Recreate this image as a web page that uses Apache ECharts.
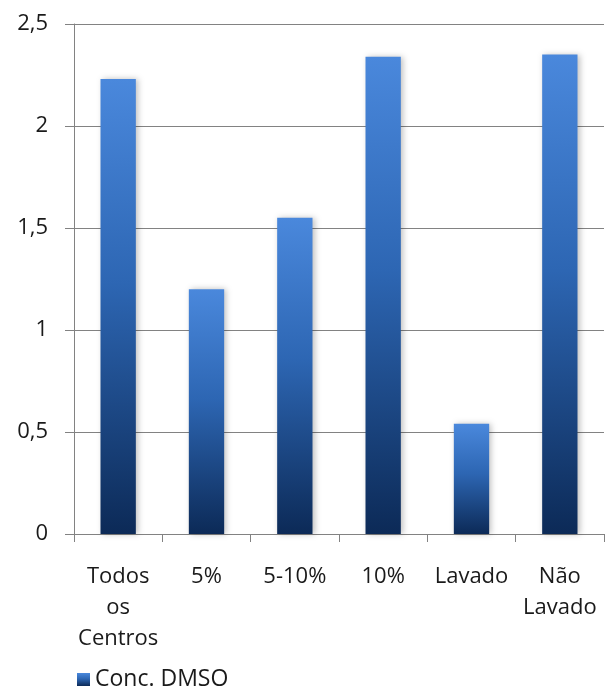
<!DOCTYPE html>
<html>
<head>
<meta charset="utf-8">
<script src="https://cdn.jsdelivr.net/npm/echarts@6/dist/echarts.min.js"></script>
<style>
  html, body { margin: 0; padding: 0; background: #fff; }
  #chart { width: 605px; height: 689px; }
</style>
</head>
<body>
<div id="chart"></div>
<script>
// dados do gráfico
var categorias = ['Todos\nos\nCentros', '5%', '5-10%', '10%', 'Lavado', 'Não\nLavado'];
var concDMSO = [2.23, 1.20, 1.55, 2.34, 0.54, 2.35];
var nomeSerie = 'Conc. DMSO';

var chart = echarts.init(document.getElementById('chart'));

// gradiente das barras (claro em cima, escuro em baixo)
var gradiente = new echarts.graphic.LinearGradient(0, 0, 0, 1, [
  { offset: 0, color: '#4a88dc' },
  { offset: 0.45, color: '#2d66b3' },
  { offset: 1, color: '#0c2a57' }
]);

var option = {
  animation: false,
  textStyle: { fontFamily: 'Open Sans' },
  grid: {
    left: 74,
    right: 1,
    top: 24,
    bottom: 155,
    containLabel: false
  },
  legend: {
    left: 72,
    top: 663,
    icon: 'rect',
    itemWidth: 13,
    itemHeight: 13,
    itemGap: 6,
    textStyle: { fontSize: 23, color: '#1a1a1a', fontFamily: 'Open Sans' },
    data: [nomeSerie]
  },
  xAxis: {
    type: 'category',
    data: categorias,
    axisLine: { show: true, lineStyle: { color: '#828282', width: 1 } },
    axisTick: { show: true, length: 8, lineStyle: { color: '#828282' } },
    axisLabel: {
      interval: 0,
      margin: 27,
      fontSize: 22,
      lineHeight: 31,
      color: '#1a1a1a',
      fontFamily: 'Open Sans'
    }
  },
  yAxis: {
    type: 'value',
    min: 0,
    max: 2.5,
    interval: 0.5,
    axisLine: { show: true, lineStyle: { color: '#828282', width: 1 } },
    axisTick: { show: true, length: 9, lineStyle: { color: '#828282' } },
    splitLine: { show: true, lineStyle: { color: '#828282', width: 1 } },
    axisLabel: {
      margin: 26,
      fontSize: 22,
      color: '#1a1a1a',
      fontFamily: 'Open Sans',
      formatter: function (v) {
        return String(v).replace('.', ',');
      }
    }
  },
  series: [{
    name: nomeSerie,
    type: 'bar',
    barWidth: '40%',
    data: concDMSO,
    itemStyle: {
      color: gradiente,
      shadowBlur: 6,
      shadowColor: 'rgba(0,0,0,0.25)',
      shadowOffsetX: 2
    }
  }]
};

chart.setOption(option);
</script>
</body>
</html>
